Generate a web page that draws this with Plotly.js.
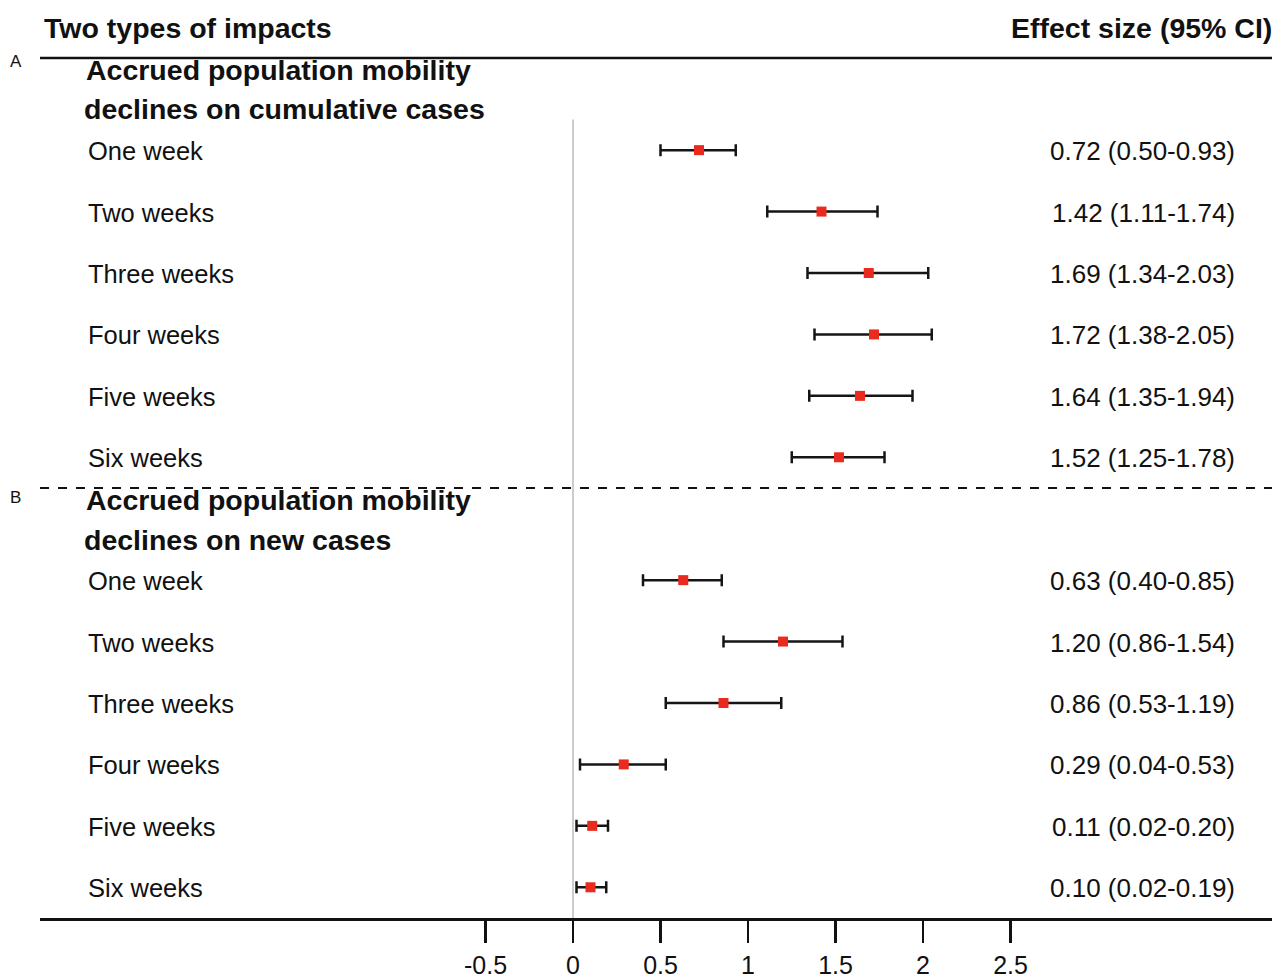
<!DOCTYPE html>
<html>
<head>
<meta charset="utf-8">
<script src="https://cdn.plot.ly/plotly-3.0.1.min.js"></script>
<style>html,body{margin:0;padding:0;background:#fff;}#chart{width:1272px;height:979px;}</style>
</head>
<body>
<div id="chart"></div>
<script>
// ---- data ----
const columnHeaders = ["Two types of impacts", "Effect size (95% CI)"];
const panelLetters = ["A", "B"];
const panelTitleA = ["Accrued population mobility", "declines on cumulative cases"];
const panelTitleB = ["Accrued population mobility", "declines on new cases"];
const weekLabels = ["One week", "Two weeks", "Three weeks", "Four weeks", "Five weeks", "Six weeks"];
const cumEst = [0.72, 1.42, 1.69, 1.72, 1.64, 1.52];
const cumLo  = [0.50, 1.11, 1.34, 1.38, 1.35, 1.25];
const cumHi  = [0.93, 1.74, 2.03, 2.05, 1.94, 1.78];
const newEst = [0.63, 1.20, 0.86, 0.29, 0.11, 0.10];
const newLo  = [0.40, 0.86, 0.53, 0.04, 0.02, 0.02];
const newHi  = [0.85, 1.54, 1.19, 0.53, 0.20, 0.19];
const xTicks = [-0.5, 0, 0.5, 1, 1.5, 2, 2.5];
const xTickText = ["-0.5", "0", "0.5", "1", "1.5", "2", "2.5"];

// ---- layout helpers ----
const W = 1272, H = 979;
const mL = 40, mR = 0, mT = 58, mB = 61;
const plotW = W - mL - mR, plotH = H - mT - mB;
const zeroPx = 573, pxPerUnit = 175;
const xRange = [(mL - zeroPx) / pxPerUnit, (W - mR - zeroPx) / pxPerUnit];
const px = p => (p - mL) / plotW;            // pixel -> paper x
const py = p => 1 - (p - mT) / plotH;        // pixel -> paper y
const FONT = "Liberation Sans, Arial, Helvetica, sans-serif";

// slot positions: header A at 0, rows 1..6, header B at 7, rows 8..13
const slotsA = weekLabels.map((_, i) => i + 1);
const slotsB = weekLabels.map((_, i) => i + 8);

const ciText = (e, l, h) => e.map((v, i) => v.toFixed(2) + " (" + l[i].toFixed(2) + "-" + h[i].toFixed(2) + ")");

function series(est, lo, hi, slots) {
  return {
    type: "scatter", mode: "markers",
    x: est, y: slots,
    error_x: {
      type: "data", symmetric: false,
      array: hi.map((h, i) => h - est[i]),
      arrayminus: lo.map((l, i) => est[i] - l),
      color: "#151515", thickness: 2.5, width: 6
    },
    marker: { symbol: "square", size: 10, color: "#ea2a1f" },
    hoverinfo: "x", showlegend: false, cliponaxis: false
  };
}

const data = [series(cumEst, cumLo, cumHi, slotsA), series(newEst, newLo, newHi, slotsB)];

const annotations = [];
function txt(text, xp, yp, anchor, size, bold) {
  annotations.push({
    text: bold ? "<b>" + text + "</b>" : text,
    xref: "paper", yref: "paper", x: px(xp), y: py(yp),
    xanchor: anchor, yanchor: "middle", showarrow: false,
    font: { family: FONT, size: size, color: "#111" }
  });
}
const slotPx = s => mT + (s + 0.5) * plotH / 14;

// column headers
txt(columnHeaders[0], 42, 28, "left", 28.5, true);
txt(columnHeaders[1], 1274, 28, "right", 28.5, true);
// panel letters
txt(panelLetters[0], 8, 62, "left", 17, false);
txt(panelLetters[1], 8, 497, "left", 17, false);
// panel titles
txt(panelTitleA[0], 84, 70, "left", 28.5, true);
txt(panelTitleA[1], 82, 109, "left", 28.5, true);
txt(panelTitleB[0], 84, 500, "left", 28.5, true);
txt(panelTitleB[1], 82, 540, "left", 28.5, true);
// row labels and CI texts
const ciA = ciText(cumEst, cumLo, cumHi), ciB = ciText(newEst, newLo, newHi);
weekLabels.forEach((lab, i) => {
  txt(lab, 86, slotPx(slotsA[i]) + 1, "left", 25.5, false);
  txt(lab, 86, slotPx(slotsB[i]) + 1, "left", 25.5, false);
  txt(ciA[i], 1237, slotPx(slotsA[i]) + 1, "right", 26, false);
  txt(ciB[i], 1237, slotPx(slotsB[i]) + 1, "right", 26, false);
});

const shapes = [
  // top solid rule
  { type: "line", xref: "paper", yref: "paper", x0: 0, x1: 1, y0: 1, y1: 1,
    line: { color: "#111", width: 2.5 } },
  // dashed separator
  { type: "line", xref: "paper", yref: "y", x0: 0, x1: 1, y0: 6.5, y1: 6.5,
    line: { color: "#111", width: 2, dash: "dash" } },
  // zero reference line
  { type: "line", xref: "x", yref: "y", x0: 0, x1: 0, y0: 0.5, y1: 13.5,
    line: { color: "#c9ced3", width: 2 }, layer: "below" }
];

const layout = {
  width: W, height: H,
  margin: { l: mL, r: mR, t: mT, b: mB, pad: 0 },
  paper_bgcolor: "#ffffff", plot_bgcolor: "#ffffff",
  font: { family: FONT, color: "#111" },
  showlegend: false,
  xaxis: {
    range: xRange, tickmode: "array", tickvals: xTicks, ticktext: xTickText,
    showgrid: false, zeroline: false, showline: true, linecolor: "#111", linewidth: 2.5,
    ticks: "outside", ticklen: 22, tickwidth: 2.5, tickcolor: "#111",
    tickfont: { family: FONT, size: 25, color: "#111" }, ticklabelstandoff: 1,
    fixedrange: true
  },
  yaxis: {
    range: [13.5, -0.5], visible: false, showgrid: false, zeroline: false, fixedrange: true
  },
  shapes: shapes,
  annotations: annotations
};

Plotly.newPlot("chart", data, layout, { displayModeBar: false, staticPlot: true });
</script>
</body>
</html>
